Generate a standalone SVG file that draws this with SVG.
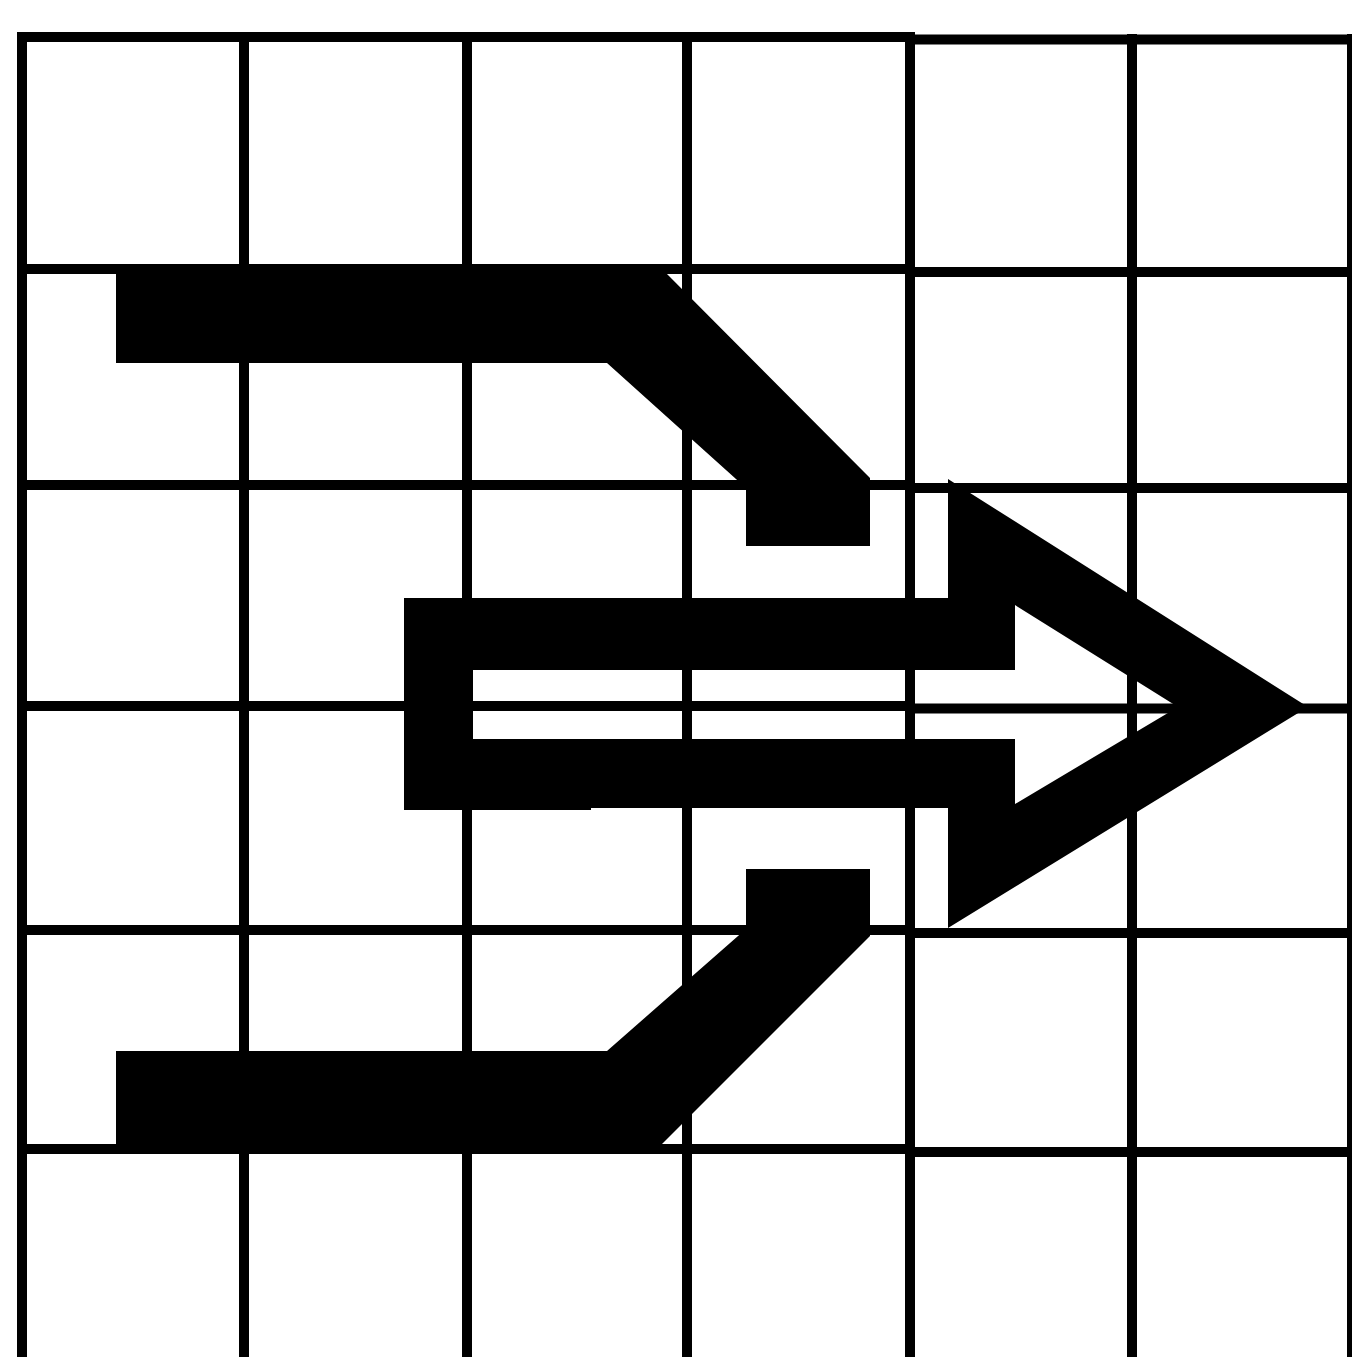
<svg xmlns="http://www.w3.org/2000/svg" width="1352" height="1357" viewBox="0 0 1352 1357">
<style>
.g{fill:#000}
.s{fill:#000;fill-rule:evenodd}
</style>
<rect width="1352" height="1357" fill="#fff"/>
<g id="grid">
<rect class="g" x="17" y="32" width="10" height="1325"/>
<rect class="g" x="239" y="32" width="10" height="1325"/>
<rect class="g" x="462" y="32" width="10" height="1325"/>
<rect class="g" x="682" y="32" width="10" height="1325"/>
<rect class="g" x="905" y="32" width="10" height="1325"/>
<rect class="g" x="1127" y="34" width="10" height="1323"/>
<rect class="g" x="1347" y="34" width="10" height="1323"/>
<rect class="g" x="17" y="32" width="893" height="10"/>
<rect class="g" x="17" y="264" width="893" height="10"/>
<rect class="g" x="17" y="480" width="893" height="10"/>
<rect class="g" x="17" y="701" width="893" height="10"/>
<rect class="g" x="17" y="925" width="893" height="10"/>
<rect class="g" x="17" y="1144" width="893" height="10"/>
<rect class="g" x="905" y="34.5" width="447" height="10"/>
<rect class="g" x="905" y="267" width="447" height="10"/>
<rect class="g" x="905" y="483" width="447" height="10"/>
<rect class="g" x="905" y="703.5" width="447" height="10"/>
<rect class="g" x="905" y="928" width="447" height="10"/>
<rect class="g" x="905" y="1147" width="447" height="10"/>
</g>
<g id="top-bar">
<polygon class="s" points="116,272 665,272 870,478 870,546 746,546 746,488 607,363 116,363"/>
</g>
<g id="bottom-bar">
<polygon class="s" points="116,1051 607,1051 746,929 746,869 870,869 870,936 661,1145 116,1145"/>
</g>
<g id="arrow">
<path class="s" d="M404,598 L948,598 L948,479 L1308,707 L948,928 L948,808 L591,808 L591,810 L404,810 Z M473,670 L473,739 L1015,739 L1015,804 L1178,707 L1015,605 L1015,670 Z"/>
</g>
</svg>
